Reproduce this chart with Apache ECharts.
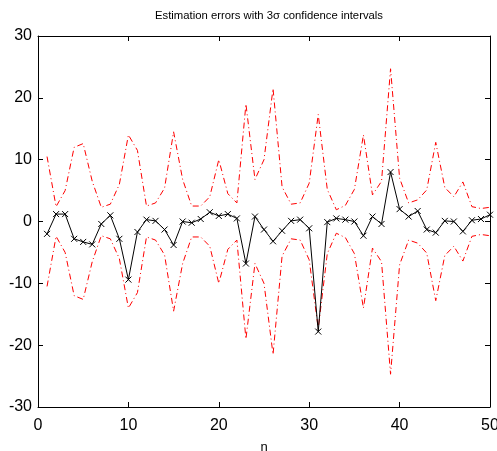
<!DOCTYPE html>
<html>
<head>
<meta charset="utf-8">
<script src="https://cdn.jsdelivr.net/npm/echarts@6/dist/echarts.min.js"></script>
<style>
html,body{margin:0;padding:0;background:#fff;}
#chart{width:497px;height:451px;}
</style>
</head>
<body>
<div id="chart"></div>
<script>
// sample index
var nValues = [1,2,3,4,5,6,7,8,9,10,11,12,13,14,15,16,17,18,19,20,21,22,23,24,25,26,27,28,29,30,31,32,33,34,35,36,37,38,39,40,41,42,43,44,45,46,47,48,49,50];
// estimation error
var errors = [-2.0,1.2,1.2,-2.8,-3.3,-3.7,-0.4,1.0,-2.8,-9.4,
              -1.7,0.3,0.1,-1.3,-3.8,0.0,-0.2,0.4,1.5,0.9,
              1.2,0.5,-6.8,0.8,-1.3,-3.2,-1.5,0.1,0.3,-1.1,
              -17.8,-0.1,0.5,0.3,0.0,-2.3,0.8,-0.4,8.0,2.0,
              0.8,1.7,-1.3,-1.8,0.1,0.0,-1.6,0.2,0.4,1.1];
// +3 sigma bound
var upperBound = [10.5,2.4,5.0,12.0,12.6,6.5,2.3,2.8,6.0,14.0,
                  11.5,2.5,3.0,5.4,14.5,6.8,2.5,2.5,4.0,10.0,
                  4.5,3.0,19.0,6.8,10.0,21.5,5.6,2.8,3.0,6.2,
                  17.3,5.2,1.9,2.6,5.2,14.0,4.3,6.5,24.7,7.0,
                  3.0,3.5,5.1,12.8,5.5,4.0,6.4,2.4,2.1,2.3];
// -3 sigma bound
var lowerBound = [-10.5,-2.4,-5.0,-12.0,-12.6,-6.5,-2.3,-2.8,-6.0,-14.0,
                  -11.5,-2.5,-3.0,-5.4,-14.5,-6.8,-2.5,-2.5,-4.0,-10.0,
                  -4.5,-3.0,-19.0,-6.8,-10.0,-21.5,-5.6,-2.8,-3.0,-6.2,
                  -17.3,-5.2,-1.9,-2.6,-5.2,-14.0,-4.3,-6.5,-24.7,-7.0,
                  -3.0,-3.5,-5.1,-12.8,-5.5,-4.0,-6.4,-2.4,-2.1,-2.3];
var xTicks = [0,10,20,30,40,50];
var yTicks = [-30,-20,-10,0,10,20,30];
var titleText = 'Estimation errors with 3\u03c3 confidence intervals';
var xName = 'n';

function pairs(ys){ return nValues.map(function(n,i){ return [n, ys[i]]; }); }

var FONT = '"Liberation Sans", Arial, sans-serif';
var axisBase = {
  type:'value',
  axisLine:{show:true, onZero:false, lineStyle:{color:'#000', width:1}},
  axisTick:{show:true, inside:true, length:5, lineStyle:{color:'#000'}},
  splitLine:{show:false}
};
function mk(extra){ return Object.assign({}, JSON.parse(JSON.stringify(axisBase)), extra); }

var chart = echarts.init(document.getElementById('chart'), null, {renderer:'canvas'});
chart.setOption({
  animation:false,
  backgroundColor:'#fff',
  title:{text:titleText, left:264, top:5, textAlign:'center',
         textStyle:{fontFamily:FONT, fontSize:11.3, fontWeight:'normal', color:'#000'}},
  grid:{left:38, right:7, top:36, bottom:44, containLabel:false, outerBoundsMode:'none'},
  xAxis:[
    mk({position:'bottom', min:xTicks[0], max:xTicks[xTicks.length-1], interval:10,
        name:xName, nameLocation:'middle', nameGap:34,
        nameTextStyle:{fontFamily:FONT, fontSize:13, color:'#000'},
        axisLabel:{show:true, color:'#000', fontFamily:FONT, fontSize:16, margin:11}}),
    mk({position:'top', min:xTicks[0], max:xTicks[xTicks.length-1], interval:10,
        axisLabel:{show:false}})
  ],
  yAxis:[
    mk({position:'left', min:yTicks[0], max:yTicks[yTicks.length-1], interval:10,
        axisLabel:{show:true, color:'#000', fontFamily:FONT, fontSize:16, margin:6}}),
    mk({position:'right', min:yTicks[0], max:yTicks[yTicks.length-1], interval:10,
        axisLabel:{show:false}})
  ],
  series:[
    {type:'line', name:'+3sigma', data:pairs(upperBound), xAxisIndex:0, yAxisIndex:0,
     showSymbol:false, symbol:'none',
     lineStyle:{color:'#ff0000', width:1, type:[6,3,1,3]}},
    {type:'line', name:'-3sigma', data:pairs(lowerBound), xAxisIndex:0, yAxisIndex:0,
     showSymbol:false, symbol:'none',
     lineStyle:{color:'#ff0000', width:1, type:[6,3,1,3]}},
    {type:'line', name:'error', data:pairs(errors), xAxisIndex:0, yAxisIndex:0,
     symbol:'path://M0,0L10,10M0,10L10,0', symbolSize:6, showSymbol:true,
     itemStyle:{color:'#000', borderColor:'#000', borderWidth:1},
     lineStyle:{color:'#000', width:1}}
  ]
});
</script>
</body>
</html>
